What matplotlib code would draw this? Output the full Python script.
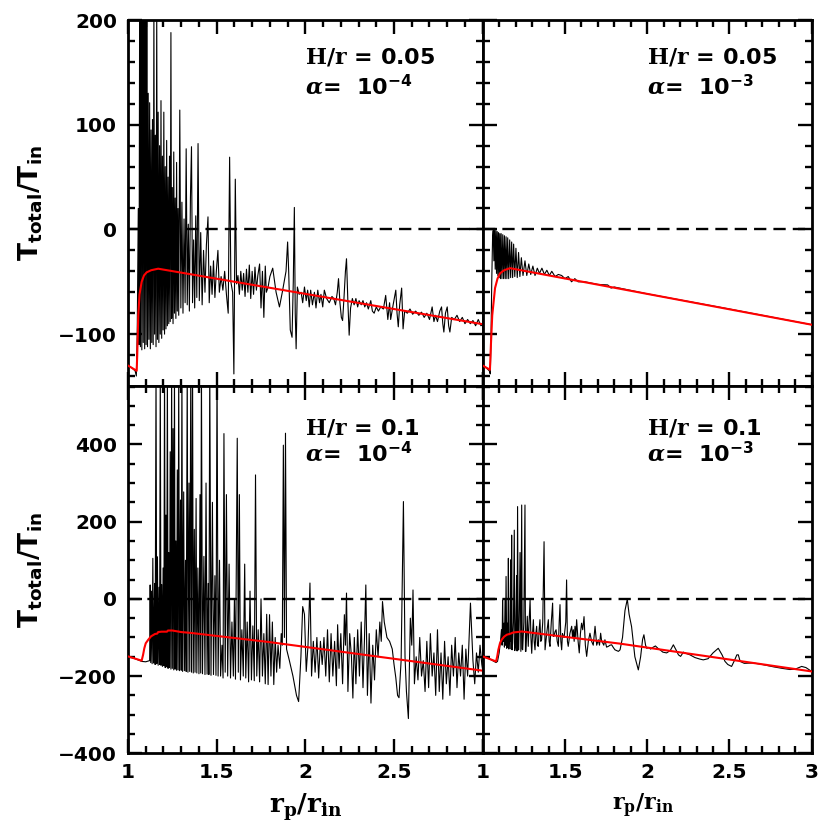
import matplotlib
matplotlib.use("Agg")
import matplotlib.pyplot as plt
from matplotlib.ticker import MultipleLocator, FuncFormatter

plt.rcParams['font.family'] = ['DejaVu Sans']
plt.rcParams['font.weight'] = 'bold'
plt.rcParams['mathtext.fontset'] = 'custom'
plt.rcParams['mathtext.rm'] = 'DejaVu Serif:bold'
plt.rcParams['mathtext.bf'] = 'DejaVu Sans:bold'
plt.rcParams['mathtext.it'] = 'DejaVu Serif:italic:bold'
plt.rcParams['mathtext.sf'] = 'DejaVu Serif:bold'

# ---------------- data ----------------
panel_labels = [("H/r", "0.05", "-4"), ("H/r", "0.05", "-3"),
                ("H/r", "0.1", "-4"), ("H/r", "0.1", "-3")]

# top-left: H/r = 0.05, alpha = 1e-4
tl_pts = [(1.000,-130),(1.020,-132),(1.040,-135),(1.047,-140),(1.052,-100),(1.058,20),
 (1.062,-110),(1.066,250),(1.070,-112),(1.074,260),(1.078,-115),(1.082,240),(1.086,-108),(1.090,260),
 (1.094,-114),(1.098,230),(1.102,-110),(1.106,250),(1.110,-112),(1.114,130),(1.118,-105),(1.122,121),
 (1.126,-114),(1.130,95),(1.134,-108),(1.138,105),(1.142,-110),(1.146,210),(1.150,-100),(1.154,90),
 (1.158,-112),(1.162,210),(1.166,-105),(1.170,112),(1.174,-108),(1.178,80),(1.182,-100),(1.186,123),
 (1.190,-104),(1.194,70),(1.198,-96),(1.202,112),(1.206,-100),(1.210,60),(1.214,-95),(1.218,85),
 (1.222,-92),(1.226,50),(1.230,-90),(1.234,70),(1.238,-88),(1.242,188),(1.246,-85),(1.250,40),
 (1.254,-90),(1.258,74),(1.262,-80),(1.266,30),(1.270,-85),(1.274,64),(1.278,-78),(1.282,20),
 (1.286,-82),(1.292,114),(1.298,-75),(1.304,26),(1.310,-80),(1.316,10),(1.322,-70),(1.328,77),
 (1.334,-72),(1.340,5),(1.346,-78),(1.352,30),(1.358,79),(1.364,-70),(1.370,-10),(1.376,-75),
 (1.382,13),(1.388,-65),(1.395,82),(1.402,-68),(1.410,-3),(1.418,-72),(1.426,-20),(1.434,-60),
 (1.442,-15),(1.451,12),(1.458,-70),(1.466,-35),(1.474,-62),(1.482,-30),(1.490,-65),(1.498,-40),
 (1.507,-20),(1.515,-60),(1.525,-45),(1.535,-58),(1.545,-40),(1.555,-62),(1.565,-80),(1.573,69),
 (1.580,-50),(1.590,-60),(1.597,-138),(1.605,48),(1.612,-52),(1.620,-44),(1.628,-62),(1.636,-40),
 (1.644,-58),(1.652,-42),(1.660,-64),(1.668,-38),(1.676,-60),(1.684,-34),(1.692,-66),(1.700,-40),
 (1.708,-62),(1.716,-36),(1.724,-58),(1.732,-44),(1.742,-33),(1.750,-75),(1.758,-40),(1.766,-84),
 (1.774,-35),(1.780,-60),(1.790,-55),(1.800,-45),(1.816,-37),(1.835,-60),(1.854,-74),(1.870,-60),
 (1.891,-40),(1.900,-12),(1.906,-40),(1.915,-96),(1.925,-103),(1.932,-50),(1.938,21),(1.943,-80),
 (1.948,-114),(1.955,-55),(1.965,-62),(1.976,-60),(1.985,-70),(1.995,-55),(2.005,-68),(2.013,-58),
 (2.022,-74),(2.030,-58),(2.040,-72),(2.051,-60),(2.060,-75),(2.070,-58),(2.080,-70),(2.088,-62),
 (2.098,-74),(2.107,-58),(2.120,-66),(2.135,-70),(2.150,-64),(2.160,-66),(2.170,-72),(2.180,-60),
 (2.187,-47),(2.195,-70),(2.203,-84),(2.210,-87),(2.218,-65),(2.226,-40),(2.232,-28),(2.240,-70),
 (2.247,-101),(2.255,-75),(2.265,-66),(2.275,-72),(2.285,-66),(2.295,-74),(2.303,-68),(2.315,-72),
 (2.325,-68),(2.335,-74),(2.345,-70),(2.355,-76),(2.369,-68),(2.378,-78),(2.388,-80),(2.400,-74),
 (2.412,-78),(2.425,-74),(2.440,-76),(2.453,-63),(2.465,-86),(2.475,-70),(2.481,-86),(2.495,-72),
 (2.510,-58),(2.517,-80),(2.524,-93),(2.532,-72),(2.543,-56),(2.551,-95),(2.560,-78),(2.575,-80),
 (2.590,-76),(2.605,-81),(2.622,-78),(2.640,-82),(2.655,-79),(2.670,-84),(2.685,-80),(2.700,-86),
 (2.715,-74),(2.725,-88),(2.734,-82),(2.745,-88),(2.758,-78),(2.768,-74),(2.775,-90),(2.781,-98),
 (2.790,-80),(2.800,-74),(2.808,-92),(2.815,-98),(2.825,-84),(2.840,-86),(2.855,-82),(2.870,-88),
 (2.885,-84),(2.900,-90),(2.915,-86),(2.930,-90),(2.945,-87),(2.960,-92),(2.975,-86),(2.990,-92),
 (3.000,-91)]
tl_red = [(1.000,-130),(1.049,-135),(1.052,-120),(1.058,-82),(1.065,-62),(1.077,-50),(1.090,-44),
 (1.105,-41),(1.130,-39),(1.170,-37.5),(3.000,-90.5)]

# top-right: H/r = 0.05, alpha = 1e-3
tr_pts = [(1.000,-130),(1.020,-132),(1.040,-135),(1.046,-138),(1.050,-110),(1.055,-50),(1.060,-8),
 (1.064,-1),(1.068,-30),(1.072,-1),(1.076,-38),(1.080,-1),(1.084,-42),(1.088,-2),(1.092,-44),
 (1.096,-3),(1.100,-46),(1.104,-4),(1.108,-47),(1.112,-4),(1.117,-47),(1.122,-5),(1.127,-47),
 (1.132,-6),(1.137,-47),(1.142,-7),(1.147,-47),(1.152,-8),(1.158,-47),(1.164,-10),(1.170,-46),
 (1.176,-12),(1.182,-46),(1.188,-14),(1.195,-45),(1.202,-18),(1.210,-46),(1.218,-22),(1.226,-45),
 (1.235,-27),(1.245,-44),(1.257,-30),(1.268,-44),(1.280,-33),(1.292,-43),(1.305,-35),(1.318,-44),
 (1.332,-37),(1.345,-42),(1.360,-37),(1.375,-43),(1.390,-39),(1.405,-44),(1.420,-40),(1.440,-45),
 (1.460,-43),(1.480,-44),(1.500,-47),(1.520,-45),(1.540,-50),(1.560,-47),(1.580,-50),(1.620,-50),
 (1.700,-52.5),(1.760,-53),(1.780,-56),(1.800,-55),(2.000,-61.5),(2.500,-76),(3.000,-91)]
tr_red = [(1.000,-130),(1.044,-134),(1.050,-110),(1.058,-82),(1.075,-56),(1.090,-47),(1.105,-42),
 (1.130,-39),(1.166,-37),(3.000,-91)]

# bottom-left: H/r = 0.1, alpha = 1e-4
bl_pts = [(1.000,-149),(1.040,-155),(1.077,-162),(1.100,-163),(1.122,-160),
 (1.125,36),(1.128,-165),(1.132,20),(1.136,-168),(1.140,105),(1.144,-166),(1.150,40),(1.153,-170),
 (1.158,600),(1.162,-168),(1.166,109),(1.170,-172),(1.175,30),(1.178,-170),(1.182,600),(1.186,-172),
 (1.190,37),(1.194,-175),(1.198,80),(1.202,-173),(1.206,600),(1.210,-178),(1.214,217),(1.218,-176),
 (1.222,600),(1.226,-180),(1.230,120),(1.234,-178),(1.238,381),(1.242,-182),(1.246,600),(1.250,-180),
 (1.254,441),(1.258,-184),(1.262,600),(1.266,-182),(1.270,150),(1.274,-185),(1.278,334),(1.282,-184),
 (1.286,600),(1.290,-186),(1.296,256),(1.300,-185),(1.304,600),(1.308,-188),(1.314,277),(1.318,-186),
 (1.324,100),(1.328,-188),(1.334,600),(1.338,-190),(1.344,300),(1.348,-188),(1.354,600),(1.358,-190),
 (1.364,600),(1.368,-192),(1.374,180),(1.378,-190),(1.384,260),(1.388,-192),(1.394,80),(1.400,-194),
 (1.406,270),(1.410,-192),(1.414,600),(1.420,-194),(1.428,110),(1.434,-196),(1.440,300),(1.446,-195),
 (1.452,40),(1.456,-196),(1.461,600),(1.468,-198),(1.476,250),(1.482,-196),(1.490,60),(1.496,-198),
 (1.502,600),(1.508,-200),(1.516,100),(1.522,-200),(1.530,-120),(1.536,-205),(1.541,428),(1.548,-190),
 (1.555,270),(1.562,-200),(1.570,90),(1.578,-205),(1.586,-60),(1.594,-200),(1.600,0),(1.606,-208),
 (1.616,416),(1.622,-190),(1.628,270),(1.634,-210),(1.642,-80),(1.650,-200),(1.658,90),(1.664,-205),
 (1.672,-60),(1.680,-215),(1.688,20),(1.696,-210),(1.704,-70),(1.712,-212),(1.719,321),(1.726,-200),
 (1.734,-80),(1.742,-215),(1.750,0),(1.758,-200),(1.766,-90),(1.774,-220),(1.782,-40),(1.790,-222),
 (1.798,-41),(1.806,-200),(1.814,-60),(1.822,-222),(1.830,-100),(1.838,-190),(1.846,-120),(1.856,-180),
 (1.864,-90),(1.870,-120),(1.876,398),(1.882,-100),(1.888,429),(1.894,-130),(1.910,-160),(1.930,-200),
 (1.950,-250),(1.962,-266),(1.975,-150),(1.985,-20),(1.995,-40),(2.005,-188),(2.015,-120),(2.026,41),
 (2.035,-200),(2.045,-110),(2.055,-190),(2.065,-100),(2.075,-205),(2.085,-110),(2.095,-170),
 (2.105,-100),(2.115,-200),(2.125,-80),(2.135,-215),(2.145,-90),(2.155,-200),(2.165,-110),(2.175,-225),
 (2.182,-67),(2.190,-180),(2.200,-90),(2.210,-220),(2.220,-41),(2.226,-120),(2.232,15),(2.240,-240),
 (2.250,-90),(2.260,-150),(2.268,-257),(2.276,-100),(2.285,-220),(2.295,-80),(2.305,-200),(2.315,-60),
 (2.325,-230),(2.333,-110),(2.341,36),(2.350,-250),(2.360,-90),(2.370,-270),(2.380,-120),(2.390,-210),
 (2.400,-80),(2.410,-150),(2.420,-60),(2.428,-110),(2.435,-7),(2.445,-60),(2.460,-100),(2.475,-110),
 (2.490,-130),(2.500,-170),(2.510,-204),(2.520,-250),(2.528,-256),(2.540,-160),(2.553,252),
 (2.562,-150),(2.570,-240),(2.581,-310),(2.592,-50),(2.600,-120),(2.607,23),(2.615,-220),(2.625,-150),
 (2.635,-210),(2.645,-100),(2.655,-200),(2.665,-160),(2.675,-240),(2.685,-110),(2.695,-230),
 (2.705,-90),(2.715,-200),(2.725,-140),(2.735,-250),(2.745,-80),(2.755,-240),(2.765,-140),(2.775,-260),
 (2.785,-110),(2.795,-220),(2.805,-150),(2.815,-250),(2.825,-120),(2.835,-200),(2.845,-100),
 (2.855,-230),(2.865,-140),(2.875,-200),(2.885,-120),(2.895,-260),(2.905,-130),(2.915,-200),
 (2.931,-11),(2.945,-160),(2.955,-220),(2.965,-140),(2.975,-190),(2.985,-120),(2.995,-170),(3.000,-185)]
bl_red = [(1.000,-149),(1.077,-160),(1.085,-145),(1.092,-128),(1.100,-115),(1.114,-106),(1.130,-97),
 (1.152,-91),(1.165,-90),(1.170,-86),(1.189,-85),(1.220,-85),(1.225,-82),(1.250,-82),(1.300,-86),
 (1.350,-88),(1.798,-112),(3.000,-186)]

# bottom-right: H/r = 0.1, alpha = 1e-3
br_pts = [(1.000,-149),(1.040,-155),(1.081,-165),(1.090,-162),(1.100,-140),(1.108,-110),(1.114,-80),
 (1.118,-120),(1.121,-3),(1.125,-110),(1.129,-63),(1.132,-125),(1.136,-3),(1.139,-120),(1.142,58),
 (1.146,-128),(1.150,-63),(1.153,-125),(1.156,105),(1.159,-130),(1.162,-97),(1.166,-110),(1.170,101),
 (1.173,-130),(1.176,165),(1.179,-132),(1.182,-114),(1.187,-60),(1.192,178),(1.195,-134),(1.198,-123),
 (1.202,-50),(1.206,60),(1.209,-135),(1.212,239),(1.216,-132),(1.219,-132),(1.223,-30),(1.227,120),
 (1.232,-136),(1.237,243),(1.240,-130),(1.243,-132),(1.250,-60),(1.257,243),(1.260,-136),(1.263,-136),
 (1.268,-80),(1.271,-45),(1.277,-123),(1.282,-60),(1.288,-3),(1.293,-100),(1.298,-141),(1.303,-90),
 (1.308,-54),(1.313,-110),(1.318,-132),(1.323,-90),(1.328,-71),(1.333,-120),(1.338,-123),(1.343,-80),
 (1.348,-54),(1.353,-110),(1.358,-106),(1.365,-60),(1.373,148),(1.379,-132),(1.389,-90),(1.399,-54),
 (1.404,-110),(1.409,-123),(1.417,-60),(1.425,-11),(1.429,-97),(1.433,-97),(1.440,-85),(1.446,-80),
 (1.453,-110),(1.460,-123),(1.465,-60),(1.470,-15),(1.475,-110),(1.480,-132),(1.485,-90),(1.490,-97),
 (1.495,-100),(1.500,-80),(1.505,-60),(1.510,49),(1.515,-110),(1.520,-123),(1.530,-90),(1.541,-71),
 (1.546,-100),(1.551,-80),(1.556,-110),(1.561,-71),(1.566,-100),(1.571,-54),(1.580,-110),(1.587,-140),
 (1.594,-90),(1.601,-63),(1.608,-80),(1.616,-46),(1.624,-120),(1.632,-149),(1.642,-110),(1.652,-89),
 (1.662,-110),(1.672,-120),(1.683,-71),(1.693,-120),(1.703,-106),(1.710,-120),(1.717,-89),(1.723,-110),
 (1.729,-114),(1.736,-120),(1.743,-106),(1.753,-125),(1.764,-123),(1.774,-120),(1.784,-119),
 (1.794,-126),(1.804,-132),(1.815,-134),(1.825,-136),(1.835,-132),(1.850,-100),(1.865,-30),(1.879,-1),
 (1.890,-40),(1.905,-72),(1.925,-150),(1.946,-184),(1.960,-150),(1.972,-105),(1.980,-93),(1.990,-120),
 (1.997,-128),(2.010,-126),(2.020,-130),(2.037,-125),(2.050,-122),(2.065,-128),(2.078,-132),
 (2.095,-138),(2.118,-140),(2.140,-134),(2.159,-119),(2.175,-132),(2.190,-145),(2.203,-149),
 (2.220,-138),(2.240,-142),(2.260,-145),(2.290,-152),(2.320,-156),(2.341,-158),(2.370,-155),
 (2.400,-140),(2.432,-128),(2.455,-145),(2.473,-162),(2.490,-170),(2.513,-175),(2.530,-160),
 (2.545,-145),(2.554,-145),(2.565,-162),(2.590,-167),(2.645,-166),(2.700,-170),(2.767,-176),
 (2.820,-180),(2.868,-183),(2.900,-182),(2.939,-175),(2.965,-178),(3.000,-188)]
br_red = [(1.000,-149),(1.081,-162),(1.088,-150),(1.095,-132),(1.105,-115),(1.115,-106),(1.130,-98),
 (1.146,-93),(1.170,-90),(1.186,-87),(1.210,-86),(1.237,-84.5),(1.835,-116),(3.000,-188)]

top_ylim = (-150, 200)
bot_ylim = (-400, 550)
xlim = (1, 3)

# ---------------- figure ----------------
fig = plt.figure(figsize=(8.3, 8.3), dpi=100)
L, M, R = 128/830, 482.7/830, 811.7/830
T, C, B = 1-20/830, 1-386.5/830, 1-753.3/830

axes = {
    'tl': fig.add_axes([L, C, M-L, T-C]),
    'tr': fig.add_axes([M, C, R-M, T-C]),
    'bl': fig.add_axes([L, B, M-L, C-B]),
    'br': fig.add_axes([M, B, R-M, C-B]),
}
data = {'tl': (tl_pts, tl_red), 'tr': (tr_pts, tr_red), 'bl': (bl_pts, bl_red), 'br': (br_pts, br_red)}
labels = {'tl': panel_labels[0], 'tr': panel_labels[1], 'bl': panel_labels[2], 'br': panel_labels[3]}

def fmt(v, pos):
    s = '%g' % v
    return s.replace('-', '\u2212')

for key, ax in axes.items():
    pts, red = data[key]
    ax.plot([p[0] for p in pts], [p[1] for p in pts], color='black', lw=0.8, zorder=2)
    ax.axhline(0, color='black', lw=1.7, dashes=(5.2, 3.0), zorder=3)
    ax.plot([p[0] for p in red], [p[1] for p in red], color='#ff0000', lw=1.5, zorder=4)
    ax.set_xlim(*xlim)
    top = key[0] == 't'
    ax.set_ylim(*(top_ylim if top else bot_ylim))
    ax.xaxis.set_major_locator(MultipleLocator(0.5))
    ax.xaxis.set_minor_locator(MultipleLocator(0.1))
    ax.yaxis.set_major_locator(MultipleLocator(100 if top else 200))
    ax.yaxis.set_minor_locator(MultipleLocator(20 if top else 50))
    ax.tick_params(which='both', direction='in', top=True, right=True, width=1.7)
    ax.tick_params(which='major', length=10)
    ax.tick_params(which='minor', length=5)
    ax.tick_params(axis='y', pad=8, labelsize=14.5)
    ax.tick_params(axis='x', pad=7, labelsize=14.5)
    for sp in ax.spines.values():
        sp.set_linewidth(2.0)
    if key[1] == 'r':
        ax.yaxis.set_major_formatter(FuncFormatter(lambda v, p: ''))
    else:
        ax.yaxis.set_major_formatter(FuncFormatter(fmt))
    if top:
        ax.xaxis.set_major_formatter(FuncFormatter(lambda v, p: ''))
    elif key == 'bl':
        ax.xaxis.set_major_formatter(FuncFormatter(lambda v, p: '' if abs(v-3) < 1e-6 else fmt(v, p)))
    else:
        ax.xaxis.set_major_formatter(FuncFormatter(fmt))
    for lab in ax.get_xticklabels() + ax.get_yticklabels():
        lab.set_fontweight('bold')
    hr, hv, ae = labels[key]
    y1, y2 = (0.882, 0.795) if top else (0.868, 0.795)
    ax.text(0.50, y1, r'$\mathsf{H/r}$ = ' + hv, transform=ax.transAxes, fontsize=16,
            fontweight='bold', ha='left', va='baseline')
    ax.text(0.50, y2, r'$\alpha$=  10$^{\mathbf{' + ae + '}}$', transform=ax.transAxes, fontsize=16,
            fontweight='bold', ha='left', va='baseline')

ylab = r'$\mathbf{T_{total}/T_{in}}$'
fig.text(0.037, (T+C)/2, ylab, rotation=90, ha='center', va='center', fontsize=19)
fig.text(0.037, (C+B)/2, ylab, rotation=90, ha='center', va='center', fontsize=19)
fig.text(0.3687, 0.027, r'$\mathsf{r_{p}/r_{in}}$', ha='center', va='center', fontsize=19)
fig.text(0.7747, 0.029, r'$\mathsf{r_{p}/r_{in}}$', ha='center', va='center', fontsize=16)

fig.savefig('out.png', dpi=100)
